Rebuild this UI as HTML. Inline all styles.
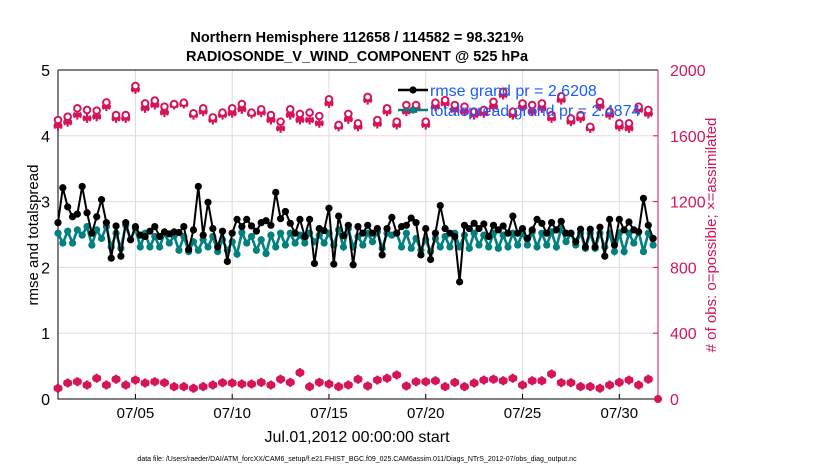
<!DOCTYPE html>
<html><head><meta charset="utf-8"><style>
html,body{margin:0;padding:0;background:#fff;}
svg{display:block;font-family:"Liberation Sans",sans-serif;}
</style></head><body>
<svg id="chart" width="830" height="470" viewBox="0 0 830 470">
<text x="357" y="42" text-anchor="middle" font-size="14.5" font-weight="bold">Northern Hemisphere 112658 / 114582 = 98.321%</text>
<text x="357" y="61" text-anchor="middle" font-size="14.5" font-weight="bold">RADIOSONDE_V_WIND_COMPONENT @ 525 hPa</text>
<g id="grid"></g>
<g id="axes"></g>
<g id="marks"></g>
<text transform="translate(38,235) rotate(-90)" text-anchor="middle" font-size="15">rmse and totalspread</text>
<text transform="translate(716,235) rotate(-90)" text-anchor="middle" font-size="15" fill="#d6145a"># of obs: o=possible; ×=assimilated</text>
<text x="357" y="442" text-anchor="middle" font-size="16">Jul.01,2012 00:00:00 start</text>
<text x="357" y="461" text-anchor="middle" font-size="7">data file: /Users/raeder/DAI/ATM_forcXX/CAM6_setup/f.e21.FHIST_BGC.f09_025.CAM6assim.011/Diags_NTrS_2012-07/obs_diag_output.nc</text>
<g id="legend"></g>
</svg>
<script>
const rmse = [2.68,3.21,2.92,2.77,2.81,3.23,2.83,2.52,2.77,3.03,2.68,2.14,2.63,2.17,2.68,2.42,2.62,2.49,2.47,2.55,2.62,2.47,2.54,2.51,2.54,2.53,2.62,2.27,2.57,3.23,2.49,2.99,2.59,2.31,2.55,2.09,2.52,2.73,2.62,2.73,2.63,2.55,2.68,2.71,2.64,3.14,2.74,2.85,2.67,2.52,2.73,2.47,2.73,2.06,2.59,2.56,2.90,2.05,2.78,2.48,2.64,2.04,2.62,
2.52,2.64,2.52,2.59,2.19,2.59,2.76,2.52,2.62,2.64,2.75,2.68,2.19,2.59,2.12,2.52,2.94,2.59,2.52,2.47,1.78,2.64,2.59,2.67,2.59,2.66,2.47,2.64,2.57,2.63,2.52,2.78,2.52,2.59,2.44,2.57,2.73,2.67,2.52,2.68,2.57,2.70,2.52,2.52,2.39,2.58,2.31,2.58,2.31,2.61,2.17,2.73,2.34,2.73,2.57,2.69,2.57,2.54,3.05,2.64,2.44];
const spread = [2.52,2.37,2.55,2.37,2.57,2.49,2.62,2.34,2.57,2.44,2.62,2.31,2.52,2.29,2.64,2.42,2.59,2.31,2.52,2.31,2.47,2.31,2.52,2.37,2.48,2.26,2.47,2.24,2.39,2.26,2.42,2.31,2.47,2.24,2.42,2.26,2.39,2.20,2.53,2.37,2.47,2.26,2.42,2.21,2.49,2.31,2.52,2.34,2.52,2.37,2.49,2.37,2.52,2.39,2.49,2.37,2.52,2.34,2.57,2.31,2.59,2.31,2.47,
2.34,2.52,2.39,2.54,2.29,2.52,2.49,2.52,2.31,2.52,2.29,2.44,2.26,2.42,2.24,2.44,2.31,2.47,2.31,2.52,2.31,2.49,2.29,2.52,2.34,2.49,2.31,2.52,2.29,2.49,2.31,2.52,2.34,2.52,2.34,2.54,2.31,2.52,2.34,2.54,2.31,2.59,2.39,2.52,2.34,2.52,2.29,2.52,2.29,2.52,2.31,2.52,2.24,2.52,2.24,2.52,2.37,2.54,2.24,2.52,2.34];
const possible = [1696,1716,1767,1757,1753,1803,1726,1726,1903,1797,1814,1777,1793,1801,1737,1767,1712,1741,1767,1793,1741,1761,1726,1686,1761,1733,1741,1720,1822,1666,1733,1676,
1836,1696,1767,1686,1787,1787,1686,1801,1817,1787,1777,1747,1757,1807,1868,1747,1797,1787,1797,1726,1840,1706,1726,1655,1807,1747,1676,1676,1777,1757];
const assimilated = [1660,1682,1726,1706,1716,1777,1706,1706,1882,1767,1787,1741,1787,1793,1726,1747,1696,1726,1737,1761,1733,1741,1696,1645,1726,1696,1696,1676,1797,1655,1700,1655,
1817,1672,1747,1666,1747,1767,1666,1777,1797,1757,1747,1726,1737,1777,1848,1726,1777,1747,1767,1706,1817,1686,1706,1645,1780,1726,1655,1645,1757,1733];
const lowCount = [65,97,105,85,126,85,120,85,115,97,105,99,75,75,65,75,85,99,97,91,91,101,85,120,101,160,75,101,91,75,85,120,79,115,126,146,79,105,105,111,75,101,75,97,115,120,111,126,85,111,111,152,99,99,75,75,65,85,101,115,85,120];
const xTicks = ["07/05","07/10","07/15","07/20","07/25","07/30"];
const xTickDays = [4,9,14,19,24,29];
const yTicksL = [0,1,2,3,4,5];
const yTicksR = [0,400,800,1200,1600,2000];

const X0=58,X1=658,Y0=399,Y1=70,DAYS=31;
const NS="http://www.w3.org/2000/svg";
function xs(d){return X0+(d/DAYS)*(X1-X0);}
function yl(v){return Y0-(v/5)*(Y0-Y1);}
function yr(v){return Y0-(v/2000)*(Y0-Y1);}
function mk(tag,attrs,parent){const e=document.createElementNS(NS,tag);for(const k in attrs)e.setAttribute(k,attrs[k]);parent.appendChild(e);return e;}
const grid=document.getElementById('grid'),axes=document.getElementById('axes'),marks=document.getElementById('marks'),legend=document.getElementById('legend');
const PINK="#d6145a",TEAL="#00807f";

xTickDays.forEach((d,i)=>{
  const g=mk('line',{x1:xs(d),x2:xs(d),y1:Y1,y2:Y0,stroke:"#dcdcdc","stroke-width":1},grid);
  
  
  const t=mk('text',{x:xs(d),y:Y0+19,"text-anchor":"middle","font-size":15},axes);
  t.textContent=xTicks[i];
  
  
  mk('line',{x1:xs(d),x2:xs(d),y1:Y0,y2:Y0-5,stroke:"#000"},axes);
});
yTicksL.forEach(v=>{
  if(v>0&&v<5){const g=mk('line',{x1:X0,x2:X1,y1:yl(v),y2:yl(v),stroke:"#ecd6df","stroke-width":1},grid);
  
  }
  const t=mk('text',{x:X0-8,y:yl(v)+6,"text-anchor":"end","font-size":16},axes);
  t.textContent=v;
  
  
});
yTicksR.forEach(v=>{
  const t=mk('text',{x:X1+12,y:yr(v)+6,"text-anchor":"start","font-size":16,fill:PINK},axes);
  t.textContent=v;
  
  
  mk('line',{x1:X1,x2:X1-5,y1:yr(v),y2:yr(v),stroke:PINK},axes);
});
mk('path',{d:`M${X0},${Y1}H${X1}M${X0},${Y1}V${Y0}H${X1}`,stroke:"#000",fill:"none","stroke-width":1},axes);
mk('line',{x1:X1,x2:X1,y1:Y1,y2:Y0,stroke:PINK,"stroke-width":1},axes);

function star(cx,cy,parent){
  const r=4.5;let d="";
  for(let a=0;a<3;a++){const an=Math.PI/2+a*Math.PI/3;d+=`M${cx-r*Math.cos(an)},${cy-r*Math.sin(an)}L${cx+r*Math.cos(an)},${cy+r*Math.sin(an)}`;}
  d+=`M${cx-r},${cy}L${cx+r},${cy}`;
  return mk('path',{d:d,stroke:PINK,"stroke-width":2.2,fill:"none"},parent);
}
function countSeries(arr,name){
  arr.forEach((v,i)=>{
    const x=xs(i*0.5);
    if(name==='possible'){
      const c=mk('circle',{cx:x,cy:yr(v),r:3.3,fill:"#fff",stroke:PINK,"stroke-width":2},marks);
      
      
    }else if(name==='assimilated'){
      const s=star(x,yr(v),marks);
      
      
    }else{
      const c=mk('circle',{cx:x,cy:yr(v),r:4,fill:PINK},marks);
      
      
      const s=star(x,yr(v),marks);
      
      
    }
  });
}
countSeries(assimilated,'assimilated');
countSeries(possible,'possible');
countSeries(lowCount,'low');
const endC=mk('circle',{cx:xs(31),cy:yr(0),r:4,fill:PINK},marks);



function lineSeries(arr,color,w,name){
  const pts=arr.map((v,i)=>`${xs(i*0.25)},${yl(v)}`).join(' ');
  const p=mk('polyline',{points:pts,fill:"none",stroke:color,"stroke-width":w},marks);
  
  
  arr.forEach((v,i)=>{
    const c=mk('circle',{cx:xs(i*0.25),cy:yl(v),r:3.6,fill:color},marks);
    
    
  });
}
lineSeries(spread,TEAL,2.6,'totalspread');
lineSeries(rmse,"#000",2,'rmse');

function legendEntry(y,color,label,name){
  mk('line',{x1:398,x2:428,y1:y,y2:y,stroke:color,"stroke-width":2.5},legend);
  mk('circle',{cx:413,cy:y,r:3.6,fill:color},legend);
  const t=mk('text',{x:430,y:y+6,"font-size":16,fill:"#1a5cff"},legend);
  t.textContent=label;
  
  
}
legendEntry(90,"#000","rmse grand pr = 2.6208",'legend-entry-rmse');
legendEntry(110,TEAL,"totalspread grand pr = 2.4874",'legend-entry-totalspread');
</script>
</body></html>
